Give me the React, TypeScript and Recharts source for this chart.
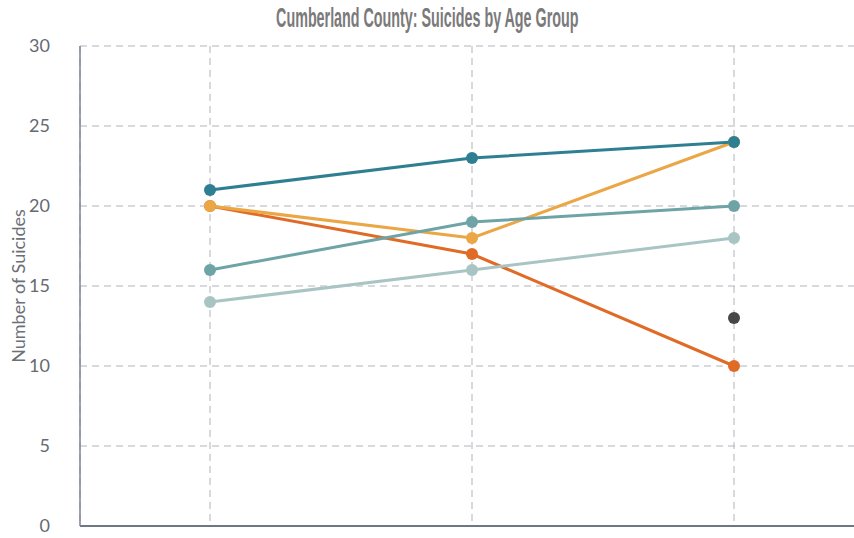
import React from "react";
import {
  LineChart,
  Line,
  XAxis,
  YAxis,
  CartesianGrid,
} from "recharts";

const periods = ["Period 1", "Period 2", "Period 3"];
const group1 = [21, 23, 24];
const group2 = [20, 18, 24];
const group3 = [20, 17, 10];
const group4 = [16, 19, 20];
const group5 = [14, 16, 18];
const group6 = [null, null, 13];
const yTicks = [0, 5, 10, 15, 20, 25, 30];

// draw order matters: later series sit on top
const SERIES = [
  { key: "g3", values: group3, color: "#e06b26" },
  { key: "g2", values: group2, color: "#eba646" },
  { key: "g5", values: group5, color: "#a9c5c3" },
  { key: "g4", values: group4, color: "#6fa4a6" },
  { key: "g1", values: group1, color: "#2f7f92" },
  { key: "g6", values: group6, color: "#474747" },
];

const data = periods.map((p, i) => {
  const row: Record<string, any> = { period: p };
  SERIES.forEach((s) => {
    row[s.key] = s.values[i];
  });
  return row;
});

export default function App() {
  return (
    <div style={{ position: "absolute", left: 0, top: 0, width: 854, height: 538, overflow: "hidden" }}>
      <div
        style={{
          position: "absolute",
          left: 0,
          top: 3,
          width: 854,
          textAlign: "center",
          zIndex: 2,
        }}
      >
        <span
          style={{
            display: "inline-block",
            transform: "scaleX(0.53)",
            fontFamily: "'Liberation Sans', Arial, sans-serif",
            fontWeight: 700,
            fontSize: 27,
            color: "#7a7a7a",
            whiteSpace: "nowrap",
          }}
        >
          Cumberland County: Suicides by Age Group
        </span>
      </div>
      <LineChart
        width={864}
        height={538}
        data={data}
        margin={{ top: 46, right: 0, bottom: 11, left: 0 }}
      >
        <CartesianGrid stroke="#b0b3ba" strokeDasharray="7 5" />
        <XAxis
          dataKey="period"
          tick={() => <g />}
          tickLine={false}
          height={1}
          padding={{ left: 130, right: 130 }}
          axisLine={{ stroke: "#6f7782", strokeWidth: 2 }}
        />
        <YAxis
          width={80}
          domain={[0, 30]}
          ticks={yTicks}
          tickLine={false}
          tickSize={0}
          tickMargin={30}
          axisLine={{ stroke: "#7d8592", strokeWidth: 1.5 }}
          tick={{ fill: "#666a70", fontSize: 18, fontFamily: "Lato, sans-serif" }}
          label={{
            value: "Number of Suicides",
            angle: -90,
            position: "center",
            dx: -21,
            fontSize: 18,
            fill: "#6b7077",
            fontFamily: "Lato, sans-serif",
          }}
        />
        {SERIES.map((s) => (
          <Line
            key={s.key}
            dataKey={s.key}
            stroke={s.color}
            strokeWidth={3}
            dot={{ r: 6, fill: s.color, stroke: s.color, strokeWidth: 0 }}
            activeDot={false}
            isAnimationActive={false}
          />
        ))}
      </LineChart>
    </div>
  );
}
